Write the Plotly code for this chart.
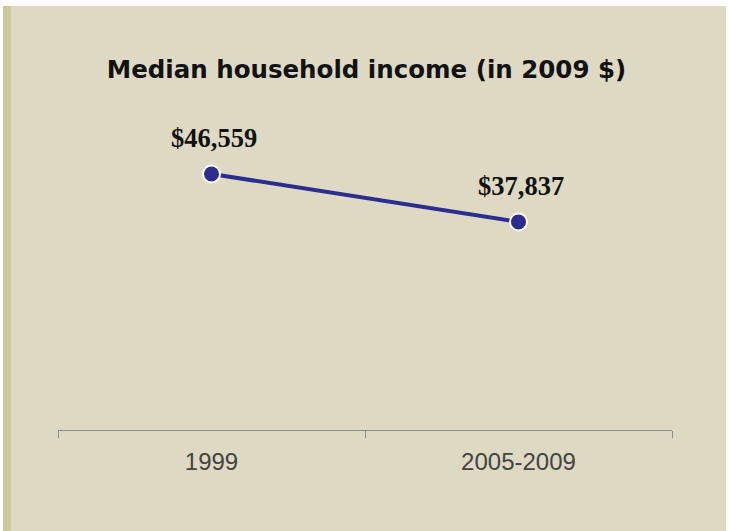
import plotly.graph_objects as go

categories = ["1999", "2005-2009"]
income = [46559, 37837]
labels = ["$46,559", "$37,837"]

W, H = 730, 531
L, R, T, B = 58, 58, 100, 101
pw, ph = W - L - R, H - T - B

def px_x(x):
    return (x - L) / pw

def px_y(y):
    return (H - B - y) / ph

fig = go.Figure()
fig.add_trace(go.Scatter(
    x=categories, y=income,
    mode="lines+markers",
    line=dict(color="#2B2D8F", width=4),
    marker=dict(size=17, color="#2B2D8F", line=dict(color="white", width=2)),
    cliponaxis=False,
    hoverinfo="skip",
))

annotations = [
    dict(x=i, y=v, xref="x", yref="y", text=f"<b>{t}</b>", showarrow=False,
         xanchor="center", yanchor="middle", yshift=36, xshift=2,
         font=dict(family="Liberation Serif", size=26.5, color="#111111"))
    for i, (v, t) in enumerate(zip(income, labels))
]

shapes = [
    dict(type="rect", xref="paper", yref="paper", layer="below",
         x0=px_x(11), x1=px_x(726), y0=px_y(531), y1=px_y(6),
         fillcolor="#DDD9C3", line=dict(width=0)),
    dict(type="rect", xref="paper", yref="paper", layer="below",
         x0=px_x(3), x1=px_x(11), y0=px_y(531), y1=px_y(6),
         fillcolor="#CBC99A", line=dict(width=0)),
]

fig.update_layout(
    width=W, height=H, autosize=False,
    margin=dict(l=L, r=R, t=T, b=B, pad=0),
    paper_bgcolor="white",
    plot_bgcolor="rgba(0,0,0,0)",
    shapes=shapes,
    annotations=annotations,
    showlegend=False,
    hovermode=False,
    title=dict(text="<b>Median household income (in 2009 $)</b>",
               x=(366.5 / W), xanchor="center", y=1 - 69 / H, yanchor="middle",
               font=dict(family="DejaVu Sans", size=24.5, color="#111111")),
    xaxis=dict(type="category", range=[-0.5, 1.5], showline=True, linecolor="#8A8A8A",
               linewidth=1, ticks="outside", ticklen=7, tickcolor="#8A8A8A",
               tickson="boundaries", showgrid=False, zeroline=False,
               tickfont=dict(family="Liberation Sans", size=24, color="#444444"),
               ticklabelstandoff=10),
    yaxis=dict(range=[0, 60000], visible=False, showgrid=False, zeroline=False),
)

fig.write_html("out.html", config={"displayModeBar": False},
               post_script="document.body.style.margin='0';")
